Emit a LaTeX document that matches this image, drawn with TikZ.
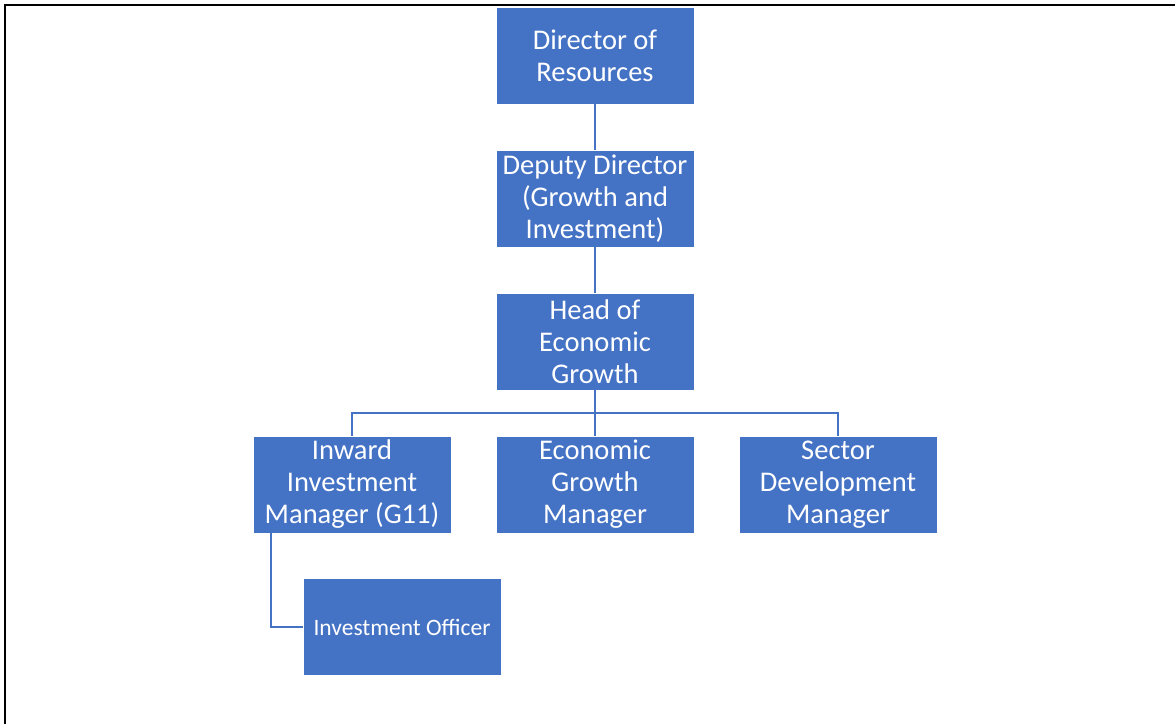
\documentclass[tikz,border=0pt]{standalone}
\usepackage{fontspec}
\setmainfont{Carlito}
\definecolor{boxblue}{HTML}{4472C4}
\definecolor{lineblue}{HTML}{4472C4}
\begin{document}
\begin{tikzpicture}[x=1pt,y=-1pt,
  orgbox/.style={rectangle, fill=boxblue, draw=white, line width=0.8pt,
    minimum width=198pt, minimum height=97pt, inner sep=0pt,
    text=white, align=center, font=\fontsize{28.5}{32}\selectfont},
  smallbox/.style={orgbox, font=\fontsize{23.5}{27}\selectfont},
  conn/.style={draw=lineblue, line width=2pt}]
\useasboundingbox (0,0) rectangle (1175,724);
\fill[white] (0,0) rectangle (1175,724);
\draw[line width=2pt] (5,724) -- (5,5) -- (1175,5);

\node[orgbox] (dir) at (595,55.5) {Director of\\Resources};
\node[orgbox] (dep) at (595,198.5) {Deputy Director\\(Growth and\\Investment)};
\node[orgbox] (head) at (595,341.5) {Head of\\Economic\\Growth};
\node[orgbox] (inw) at (352,484.5) {Inward\\Investment\\Manager (G11)};
\node[orgbox] (egm) at (595,484.5) {Economic\\Growth\\Manager};
\node[orgbox] (sdm) at (838,484.5) {Sector\\Development\\Manager};
\node[smallbox] (io) at (402,627) {Investment Officer};

\coordinate (bus) at (595,413);
\draw[conn] (dir.south) -- (dep.north);
\draw[conn] (dep.south) -- (head.north);
\draw[conn] (head.south) -- (bus);
\draw[conn] (inw.north) |- (bus) -| (sdm.north);
\draw[conn] (bus) -- (egm.north);
\coordinate (ioturn) at (271,627);
\draw[conn] (inw.south -| ioturn) -- (ioturn) -- (io.west);
\end{tikzpicture}
\end{document}
